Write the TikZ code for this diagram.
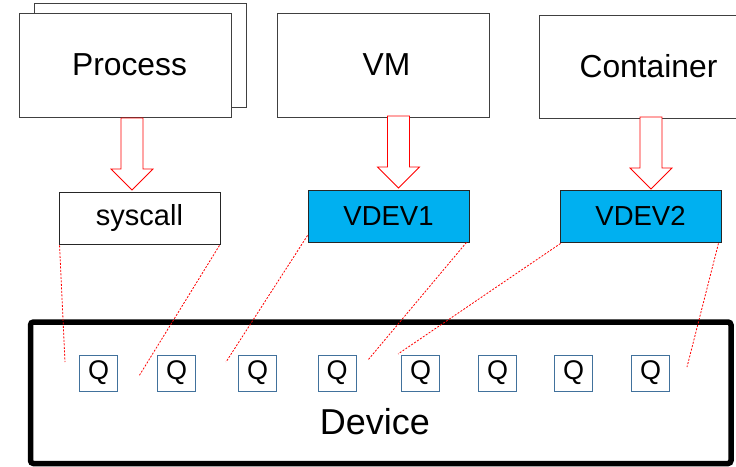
\documentclass[tikz,border=0pt]{standalone}
\usepackage{fontspec}
\setmainfont{Liberation Sans}
\usetikzlibrary{calc}

\definecolor{boxline}{HTML}{404040}
\definecolor{vdevfill}{HTML}{00B0F0}
\definecolor{qline}{HTML}{41719C}

\tikzset{
  x=1pt, y=-1pt,
  topbox/.style={draw=boxline, line width=0.9pt, fill=white, minimum width=212pt,
    minimum height=104pt, inner sep=0pt, font=\fontsize{31.8}{36}\selectfont},
  midbox/.style={draw=black!85, line width=0.9pt, minimum width=161pt,
    minimum height=52pt, inner sep=0pt},
  qbox/.style={draw=qline, line width=0.9pt, minimum width=38pt, minimum height=36pt,
    inner sep=0pt, font=\fontsize{27}{30}\selectfont},
  link/.style={red, line width=0.8pt, dash pattern=on 2pt off 1.5pt},
  bigarrow/.pic={
    \draw[red, line width=0.8pt, fill=white]
      (-11,0) -- (11,0) -- (11,51) -- (21,51) -- (0,72) -- (-21,51) -- (-11,51) -- cycle;
  }
}

\begin{document}
\begin{tikzpicture}
\useasboundingbox (0,0) rectangle (736,466);
\clip (0,0) rectangle (736,466);

% software layers
\node[topbox] (procback) at (140,55) {};
\node[topbox] (proc) at (125,65) {\hspace*{9pt}Process};
\node[topbox] (vm) at (383,65) {\hspace*{7pt}VM};
\node[topbox, minimum width=219pt, minimum height=103pt] (cont) at (648.5,66.5) {Container};

% interfaces
\node[midbox, fill=white, font=\fontsize{29}{34}\selectfont] (sys) at (139.5,218) {syscall};
\node[midbox, fill=vdevfill, font=\fontsize{27.5}{32}\selectfont] (vdev1) at (388.5,216) {VDEV1};
\node[midbox, fill=vdevfill, font=\fontsize{27.5}{32}\selectfont] (vdev2) at (640.5,216) {VDEV2};

% block arrows from each layer to its interface
\coordinate (a1) at (132,118);
\coordinate (a2) at (398.5,116);
\coordinate (a3) at (651,117);
\pic at (a1) {bigarrow};
\pic at (a2) {bigarrow};
\pic at (a3) {bigarrow};

% the device and its queues
\draw[line width=5.5pt, rounded corners=3pt] (30.5,322) rectangle (731,463.5);
\node[font=\fontsize{36}{42}\selectfont] (dev) at (375,422) {Device};

\node[qbox] (q1) at (98.5,373) {Q};
\node[qbox] (q2) at (176.5,373) {Q};
\node[qbox] (q3) at (257.5,373) {Q};
\node[qbox] (q4) at (337,373) {Q};
\node[qbox] (q5) at (420.5,373) {Q};
\node[qbox] (q6) at (497.5,373) {Q};
\node[qbox] (q7) at (573.5,373) {Q};
\node[qbox] (q8) at (650.5,373) {Q};

% queue groups assigned to each interface
\coordinate (e1) at (65,362);
\coordinate (e2) at (139,376);
\coordinate (e3) at (226,362);
\coordinate (e4) at (368,360);
\coordinate (e5) at (398,354);
\coordinate (e6) at (687,367);

\draw[link] ($(sys.south west)+(1,1)$) -- (e1);
\draw[link] ($(sys.south east)+(-1,1)$) -- (e2);
\draw[link] ($(vdev1.south west)+(0,-7)$) -- (e3);
\draw[link] ($(vdev1.south east)+(-3,0)$) -- (e4);
\draw[link] ($(vdev2.south west)+(1,1)$) -- (e5);
\draw[link] ($(vdev2.south east)+(-3,1)$) -- (e6);
\end{tikzpicture}
\end{document}
